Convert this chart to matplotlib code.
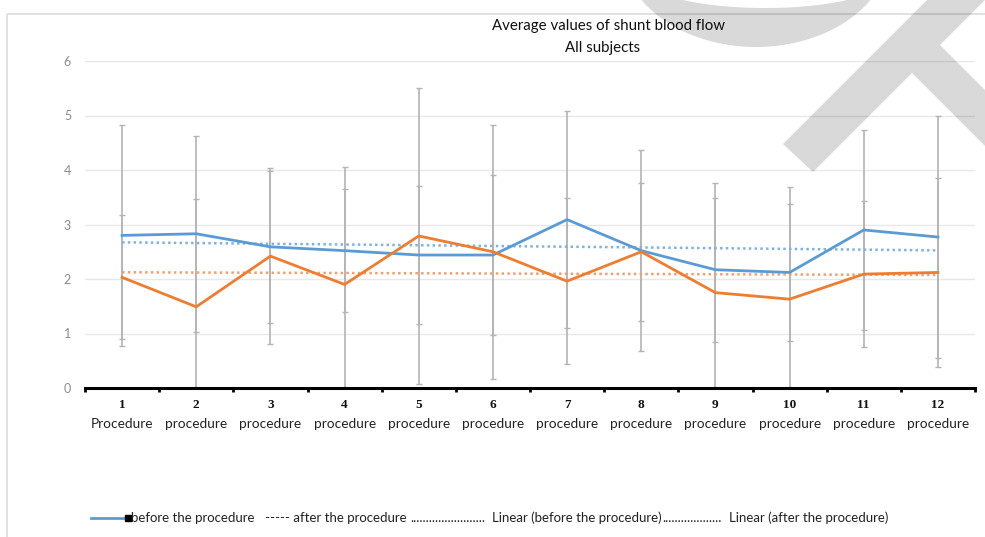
import numpy as np
import matplotlib
matplotlib.use('Agg')
import matplotlib.pyplot as plt
from matplotlib.patches import Polygon, Rectangle, PathPatch
from matplotlib.path import Path
from matplotlib.lines import Line2D

# --- Data ---
procedures = list(range(1, 12 + 1))
proc_words = ["Procedure"] + ["procedure"] * 11

before_mean = [2.80, 2.83, 2.59, 2.52, 2.44, 2.44, 3.09, 2.52, 2.17, 2.12, 2.90, 2.77]
before_err = [2.03, 1.80, 1.40, 1.13, 1.27, 1.46, 1.99, 1.84, 1.32, 1.26, 1.83, 2.22]
after_mean = [2.03, 1.49, 2.42, 1.90, 2.79, 2.50, 1.96, 2.50, 1.75, 1.63, 2.09, 2.12]
after_err = [1.14, 1.98, 1.62, 2.15, 2.71, 2.33, 1.52, 1.27, 2.02, 2.05, 1.34, 1.73]

y_ticks = [0, 1, 2, 3, 4, 5, 6]

title_lines = ["Average values of shunt blood flow", "All subjects"]
legend_parts = ["before the procedure", "----- after the procedure", "." * 24,
                "Linear (before the procedure)", "." * 19,
                "Linear (after the procedure)"]
legend_x = [131, 265, 410, 492, 662, 729]

BLUE = "#5b9bd5"
ORANGE = "#ed7d31"
ERR_GREY = "#b4b4b4"

plt.rcParams['font.family'] = ['Lato', 'DejaVu Sans']

W, H = 985, 537
fig = plt.figure(figsize=(W / 100, H / 100), dpi=100)
fig.patch.set_facecolor("white")

# plot area in pixel terms: x 85..975, y(0)=388, y(6)=61
ax = fig.add_axes([85 / W, 1 - 388 / H, 890 / W, 327 / H])
x = np.array(procedures, dtype=float)

ax.errorbar(x, before_mean, yerr=before_err, fmt='none', ecolor=ERR_GREY,
            elinewidth=1.2, capsize=2.5, capthick=1.0, zorder=2)
ax.errorbar(x, after_mean, yerr=after_err, fmt='none', ecolor=ERR_GREY,
            elinewidth=1.2, capsize=2.5, capthick=1.0, zorder=2)

# linear trend lines
for vals, col in [(before_mean, "#7fb2e0"), (after_mean, "#f0a070")]:
    k, b = np.polyfit(x, vals, 1)
    ax.plot(x, k * x + b, color=col, lw=1.8, linestyle=(0, (1, 1.3)), zorder=3)

ax.plot(x, before_mean, color=BLUE, lw=2.0, zorder=4, solid_joinstyle='miter')
ax.plot(x, after_mean, color=ORANGE, lw=2.0, zorder=4, solid_joinstyle='miter')

ax.set_xlim(0.5, 12.5)
ax.set_ylim(0, 6)
ax.set_yticks(y_ticks)
ax.set_yticklabels([str(t) for t in y_ticks], color="#8c8c8c", fontsize=9)
ax.tick_params(axis='y', length=0, pad=10)
ax.grid(axis='y', color="#e8e8e8", lw=1.0)
ax.set_axisbelow(True)

ax.set_xticks(np.arange(0.5, 13.0, 1.0))
ax.set_xticklabels([])
ax.tick_params(axis='x', direction='out', length=3, width=2, color='black')
for s in ['top', 'right', 'left']:
    ax.spines[s].set_visible(False)
ax.spines['bottom'].set_linewidth(2.2)
ax.spines['bottom'].set_color('black')

# two-line category labels: bold serif number over the word
for xi, num, word in zip(x, procedures, proc_words):
    ax.text(xi, -0.31, str(num), ha='center', va='center', fontsize=9.5,
            fontweight='bold', family='Liberation Serif', color='#111111')
    ax.text(xi, -0.66, word, ha='center', va='center', fontsize=9.8, color='#222222')

# overlay in pixel coordinates for frame, titles, legend and the grey mark
ov = fig.add_axes([0, 0, 1, 1], zorder=10)
ov.set_xlim(0, W)
ov.set_ylim(H, 0)
ov.axis('off')
ov.patch.set_alpha(0)

ov.add_patch(Rectangle((7, 14), W + 20, H + 20, fill=False, ec="#dcdcdc", lw=1.2))

ov.text(609, 26, title_lines[0], ha='center', va='center', fontsize=10.8, color='#111111')
ov.text(603, 48, title_lines[1], ha='center', va='center', fontsize=10.8, color='#111111')

ov.add_line(Line2D([91, 126], [518, 518], color=BLUE, lw=2.0))
ov.plot([128], [518], marker='s', markersize=4, color='black')
for part, px in zip(legend_parts, legend_x):
    ov.text(px, 518, part, ha='left', va='center', fontsize=9.5, color='#222222')

# grey crescent + slanted bands, translucent so underlying text shows through
WM = dict(fc='black', alpha=0.15, ec='none', zorder=20)
t = np.linspace(0, 2 * np.pi, 200)
outer = np.column_stack([756 + 135 * np.cos(t), -53 + 100 * np.sin(t)])
inner = np.column_stack([765 + 120 * np.cos(t), -21.6 + 29.6 * np.sin(t)])[::-1]
ring = Path.make_compound_path(Path(outer, closed=True), Path(inner, closed=True))
ov.add_patch(PathPatch(ring, **WM))
ov.add_patch(Polygon([(783, 144), (813, 172), (985, 0), (927, 0)], closed=True, **WM))
ov.add_patch(Polygon([(912, 73), (940, 45), (985, 90), (985, 146)], closed=True, **WM))

fig.savefig("out.png", dpi=100)
